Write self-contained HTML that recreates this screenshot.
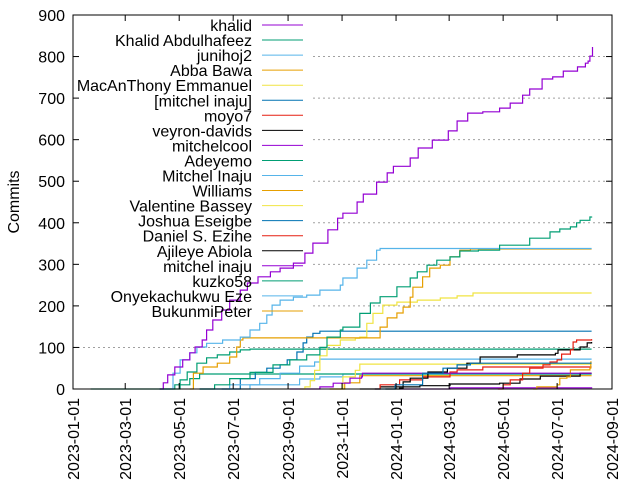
<!DOCTYPE html>
<html><head><meta charset="utf-8">
<style>
html,body{margin:0;padding:0;background:#fff;}
svg{display:block;font-family:"Liberation Sans",sans-serif;}
</style></head>
<body>
<svg id="chart" width="640" height="480" viewBox="0 0 640 480" xmlns="http://www.w3.org/2000/svg">
<g id="grid"></g>
<g id="series"></g>
<g id="axes"></g>
<g id="legend"></g>
<text x="19" y="202" font-size="16" text-anchor="middle" transform="rotate(-90 19 202)">Commits</text>
</svg>
<script>
// x values: days since 2023-01-01
const yTicks = [0,100,200,300,400,500,600,700,800,900];
const xTickDays = [0,59,120,181,243,304,365,425,486,547,609];
const xTickLabels = ["2023-01-01","2023-03-01","2023-05-01","2023-07-01","2023-09-01","2023-11-01","2024-01-01","2024-03-01","2024-05-01","2024-07-01","2024-09-01"];
const seriesNames = ["khalid","Khalid Abdulhafeez","junihoj2","Abba Bawa","MacAnThony Emmanuel","[mitchel inaju]","moyo7","veyron-davids","mitchelcool","Adeyemo","Mitchel Inaju","Williams","Valentine Bassey","Joshua Eseigbe","Daniel S. Ezihe","Ajileye Abiola","mitchel inaju","kuzko58","Onyekachukwu Eze","BukunmiPeter"];
const seriesColors = ["#9400d3","#009e73","#56b4e9","#e69f00","#f0e442","#0072b2","#e51e10","#000000","#9400d3","#009e73","#56b4e9","#e69f00","#f0e442","#0072b2","#e51e10","#000000","#9400d3","#009e73","#56b4e9","#e69f00"];

const sKhalid = [[98,0],[102,15],[107,34],[115,53],[124,70],[132,87],[138,101],[146,118],[151,142],[158,166],[168,190],[177,214],[189,238],[197,255],[209,270],[223,282],[234,291],[249,303],[262,327],[271,351],[288,383],[299,411],[305,423],[321,450],[328,469],[343,498],[355,520],[362,536],[381,556],[390,580],[406,599],[424,621],[434,645],[446,664],[463,667],[482,676],[494,688],[508,707],[516,722],[530,746],[542,751],[554,765],[570,775],[579,784],[582,789],[584,801],[587,823]];
const sKhalidA = [[143,0],[160,10],[177,25],[200,40],[226,58],[245,70],[264,82],[279,100],[287,125],[302,142],[305,149],[324,182],[336,207],[347,222],[366,246],[381,267],[389,282],[400,298],[411,310],[426,318],[437,332],[458,334],[482,346],[516,363],[539,378],[550,385],[562,390],[569,400],[573,406],[584,414],[586,415]];
const sJunihoj2 = [[98,0],[113,38],[121,70],[132,87],[140,101],[151,110],[169,118],[189,125],[200,142],[211,158],[219,178],[225,202],[234,214],[249,221],[264,226],[279,238],[302,250],[305,267],[321,291],[332,310],[343,334],[347,338],[586,338]];
const sAbba = [[132,0],[136,38],[147,53],[163,62],[177,77],[185,101],[189,118],[192,123],[341,123],[347,149],[355,171],[366,183],[373,197],[381,221],[384,245],[395,270],[403,291],[415,298],[426,318],[437,334],[449,337],[586,337]];
const sMacAn = [[256,0],[262,5],[268,20],[273,45],[279,80],[287,105],[302,118],[319,122],[324,125],[332,158],[339,182],[350,202],[366,209],[389,214],[415,219],[434,224],[452,231],[586,231]];
const sMitchelBr = [[341,0],[364,10],[395,38],[418,50],[434,58],[449,62],[586,62]];
const sMoyo7 = [[480,0],[486,10],[494,22],[508,38],[516,50],[531,58],[539,65],[547,70],[552,84],[562,94],[565,113],[569,118],[586,120]];
const sVeyron = [[353,0],[369,2],[373,17],[381,26],[401,41],[423,50],[445,62],[460,77],[502,82],[545,86],[548,94],[571,94],[573,101],[581,111],[586,113]];
const sMitchelcool = [[245,0],[279,5],[294,14],[313,26],[326,29],[327,38],[586,38]];
const sAdeyemo = [[20,0],[106,0],[121,22],[129,41],[140,62],[151,75],[163,82],[177,89],[189,94],[200,96],[586,96]];
const sMitchelI = [[143,0],[177,10],[211,25],[234,38],[256,55],[273,65],[279,72],[586,72]];
const sWilliams = [[520,0],[524,5],[547,10],[550,26],[558,29],[562,46],[584,50],[585,65],[586,65]];
const sValentine = [[290,0],[305,29],[319,45],[324,60],[586,60]];
const sJoshua = [[168,0],[189,25],[206,40],[219,50],[234,58],[242,70],[253,89],[260,111],[264,125],[271,134],[279,139],[586,139]];
const sDaniel = [[341,0],[347,10],[369,22],[395,29],[426,41],[434,46],[463,53],[586,53]];
const sAjileye = [[324,0],[347,5],[392,8],[426,12],[482,14],[505,24],[528,31],[573,38],[586,38]];
const sMitchelLow = [[369,0],[426,3],[586,4]];
const sKuzko = [[98,0],[115,10],[132,25],[143,36],[586,36]];
const sOnyeka = [[143,0],[200,10],[256,24],[279,29],[305,36],[586,36]];
const sBukunmi = [[290,0],[307,15],[324,32],[586,32]];

const seriesData = [sKhalid,sKhalidA,sJunihoj2,sAbba,sMacAn,sMitchelBr,sMoyo7,sVeyron,sMitchelcool,sAdeyemo,sMitchelI,sWilliams,sValentine,sJoshua,sDaniel,sAjileye,sMitchelLow,sKuzko,sOnyeka,sBukunmi];

const L=73,R=612,T=15,B=389, XMAX=609, YMAX=900;
const xs = d => L + d/XMAX*(R-L);
const ys = v => B - v/YMAX*(B-T);
const NS="http://www.w3.org/2000/svg";
function mk(tag, parent){const e=document.createElementNS(NS,tag);parent.appendChild(e);return e;}

const grid=document.getElementById('grid');
yTicks.forEach(v=>{
  if(v===0||v===900) return;
  const g=mk('line',grid);
  
  
  g.setAttribute('x1', v===100 ? L : 313); g.setAttribute('x2',R);
  g.setAttribute('y1',ys(v)); g.setAttribute('y2',ys(v));
  g.setAttribute('stroke','#a0a0a0'); g.setAttribute('stroke-dasharray','2,3');
});

const sg=document.getElementById('series');
for(let i=seriesData.length-1;i>=0;i--){
  const pts=seriesData[i];
  let d='M'+xs(pts[0][0]).toFixed(1)+' '+ys(pts[0][1]).toFixed(1);
  for(let k=1;k<pts.length;k++){d+=' H'+xs(pts[k][0]).toFixed(1)+' V'+ys(pts[k][1]).toFixed(1);}
  const p=mk('path',sg);
  
  
  p.setAttribute('d',d); p.setAttribute('fill','none');
  p.setAttribute('stroke',seriesColors[i]); p.setAttribute('stroke-width','1.2');
}

const ax=document.getElementById('axes');
const frame=mk('rect',ax);


frame.setAttribute('x',L);frame.setAttribute('y',T);frame.setAttribute('width',R-L);frame.setAttribute('height',B-T);
frame.setAttribute('fill','none');frame.setAttribute('stroke','#000');
yTicks.forEach(v=>{
  const y=ys(v);
  [[L,L+6],[R,R-6]].forEach(([a,b])=>{const t=mk('line',ax);
    
    
    t.setAttribute('x1',a);t.setAttribute('x2',b);t.setAttribute('y1',y);t.setAttribute('y2',y);t.setAttribute('stroke','#000');});
  const tx=mk('text',ax);
  
  
  tx.setAttribute('x',L-8);tx.setAttribute('y',y+6);tx.setAttribute('text-anchor','end');tx.setAttribute('font-size','16');
  tx.textContent=v;
});
xTickDays.forEach((dd,i)=>{
  const x=xs(dd);
  [[B,B-6],[T,T+6]].forEach(([a,b])=>{const t=mk('line',ax);
    
    
    t.setAttribute('x1',x);t.setAttribute('x2',x);t.setAttribute('y1',a);t.setAttribute('y2',b);t.setAttribute('stroke','#000');});
  const tx=mk('text',ax);
  
  
  tx.setAttribute('x',x+6);tx.setAttribute('y',B+9);tx.setAttribute('text-anchor','end');tx.setAttribute('font-size','16');
  tx.setAttribute('transform','rotate(-90 '+(x+6)+' '+(B+9)+')');
  tx.textContent=xTickLabels[i];
});

const lg=document.getElementById('legend');
seriesNames.forEach((n,i)=>{
  const y=25+i*15.05;
  const t=mk('text',lg);
  
  
  t.setAttribute('x',252);t.setAttribute('y',y+6);t.setAttribute('text-anchor','end');t.setAttribute('font-size','16');
  t.textContent=n;
  const l=mk('line',lg);
  
  
  l.setAttribute('x1',262);l.setAttribute('x2',303);l.setAttribute('y1',y);l.setAttribute('y2',y);
  l.setAttribute('stroke',seriesColors[i]);
});
</script>
</body></html>
